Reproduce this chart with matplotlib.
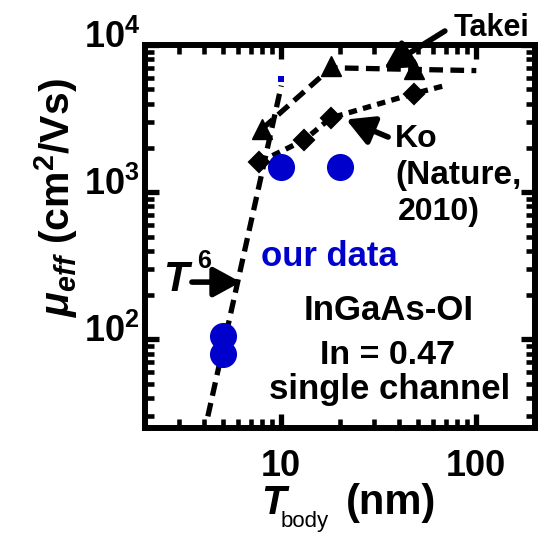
import matplotlib
matplotlib.use("Agg")
import matplotlib.pyplot as plt
from matplotlib.transforms import ScaledTranslation

plt.rcParams["font.family"] = ["Liberation Sans", "DejaVu Sans"]
plt.rcParams["mathtext.fontset"] = "custom"
plt.rcParams["mathtext.rm"] = "Liberation Sans:bold"
plt.rcParams["mathtext.it"] = "Liberation Sans:italic:bold"
plt.rcParams["mathtext.bf"] = "Liberation Sans:bold"

# ---- data -------------------------------------------------------------
# Takei et al.: measured points and guide line
takei_t = [8, 18, 48]
takei_mu = [2700, 7200, 6900]
takei_line_t = [8, 18, 100]
takei_line_mu = [2700, 7000, 6700]

# Ko et al. (Nature, 2010): measured points and guide line
ko_t = [7.7, 13.1, 17.9, 48]
ko_mu = [1600, 2260, 3190, 4680]
ko_line_t = [7.7, 13.1, 17.9, 48, 71]
ko_line_mu = [1600, 2260, 3190, 4680, 5350]

# this work
ours_t = [5, 5, 10, 20]
ours_mu = [105, 80, 1490, 1490]
ours_extra_t = [10]
ours_extra_mu = [5900]

# T^6 scaling guide
t6_t = [4.2, 10]
t6_mu = [30, 5300]

xtick_vals = [10, 100]
xtick_text = ["10", "100"]
ytick_vals = [1e2, 1e3, 1e4]
ytick_text = [r"$10^{2}$", r"$10^{3}$", r"$10^{4}$"]

BLUE = "#0000CC"
W, H = 543, 533


def fpos(px, py):
    """pixel position (from top-left) -> figure fraction"""
    return px / W, 1 - py / H


fig = plt.figure(figsize=(W / 100, H / 100), dpi=100)
ax = fig.add_axes([145 / W, 1 - 428 / H, 390 / W, 383 / H])
ax.set_xscale("log")
ax.set_yscale("log")
ax.set_xlim(2, 200)
ax.set_ylim(25, 1e4)

# guide lines
ax.plot(t6_t, t6_mu, color="k", lw=3.8, dashes=[2.6, 1.4], zorder=2,
        dash_capstyle="butt")
ax.plot(takei_line_t, takei_line_mu, color="k", lw=3.8, dashes=[2.6, 1.4],
        zorder=2, dash_capstyle="butt")
ax.plot(ko_line_t, ko_line_mu, color="k", lw=3.8, dashes=[1.6, 1.2],
        zorder=2, dash_capstyle="butt")

# this work
ax.plot(ours_t, ours_mu, "o", color=BLUE, ms=19.5, mew=0, zorder=3)
ax.plot(ours_extra_t, ours_extra_mu, "s", color=BLUE, ms=4.5, mew=0, zorder=3)

# literature points
ax.plot(takei_t, takei_mu, "^", color="k", ms=15, mew=1, zorder=4)
ax.plot(ko_t, ko_mu, "D", color="k", ms=10.5, mew=1.5, zorder=4)

# frame and ticks
for sp in ax.spines.values():
    sp.set_linewidth(4.3)
ax.tick_params(which="both", direction="in", top=True, right=True,
               labelbottom=False, labelleft=False)
ax.tick_params(which="major", length=10, width=3.8)
ax.tick_params(which="minor", length=6.5, width=3.3)
ax.set_xticks(xtick_vals)
ax.set_yticks(ytick_vals)

# tick labels
ytr = ax.get_yaxis_transform() + ScaledTranslation(0, -3 / 100, fig.dpi_scale_trans)
for v, s in zip(ytick_vals, ytick_text):
    ax.text(-0.013, v, s, transform=ytr, ha="right", va="baseline",
            fontsize=26, clip_on=False)
xtr = ax.get_xaxis_transform() + ScaledTranslation(0, -48 / 100, fig.dpi_scale_trans)
for v, s in zip(xtick_vals, xtick_text):
    ax.text(v, 0, s, transform=xtr, ha="center", va="baseline",
            fontsize=26, fontweight="bold", clip_on=False)

# axis labels
fig.text(*fpos(261, 514), "T", fontsize=29, fontweight="bold",
         fontstyle="italic", ha="left", va="baseline")
fig.text(*fpos(281, 527), "body", fontsize=16, ha="left", va="baseline")
fig.text(*fpos(346, 514), "(nm)", fontsize=30, fontweight="bold",
         ha="left", va="baseline")
fig.text(*fpos(56, 198), r"$\mu_{eff}$ (cm$^{2}$/Vs)", fontsize=29.5,
         fontweight="bold", rotation=90, ha="center", va="center")

# annotations
fig.text(*fpos(492, 36), "Takei", fontsize=22, fontweight="bold",
         ha="center", va="baseline")
fig.text(*fpos(395, 147), "Ko", fontsize=23, fontweight="bold",
         ha="left", va="baseline")
fig.text(*fpos(395, 184), "(Nature,", fontsize=24, fontweight="bold",
         ha="left", va="baseline")
fig.text(*fpos(398, 220), "2010)", fontsize=23, fontweight="bold",
         ha="left", va="baseline")
fig.text(*fpos(261, 266), "our data", fontsize=25, fontweight="bold",
         color=BLUE, ha="left", va="baseline")
fig.text(*fpos(389, 320), "InGaAs-OI", fontsize=25, fontweight="bold",
         ha="center", va="baseline")
fig.text(*fpos(388, 364), "In = 0.47", fontsize=24.5, fontweight="bold",
         ha="center", va="baseline")
fig.text(*fpos(390, 399), "single channel", fontsize=25, fontweight="bold",
         ha="center", va="baseline")
fig.text(*fpos(163, 291), "T", fontsize=30, fontweight="bold",
         fontstyle="italic", ha="left", va="baseline")
fig.text(*fpos(197, 268), "6", fontsize=18, fontweight="bold",
         ha="left", va="baseline")

arrow = dict(arrowstyle="-|>,head_length=0.55,head_width=0.3", color="k",
             lw=4, mutation_scale=30, shrinkA=0, shrinkB=0)
ax.annotate("", xy=(6.2, 245), xytext=(3.48, 245), arrowprops=arrow,
            annotation_clip=False)
ax.annotate("", xy=(33.6, 6870), xytext=(69, 12450), arrowprops=arrow,
            annotation_clip=False)
ax.annotate("", xy=(21.5, 3120), xytext=(35.3, 2370), arrowprops=arrow,
            annotation_clip=False)

fig.savefig("out.png", dpi=100)
